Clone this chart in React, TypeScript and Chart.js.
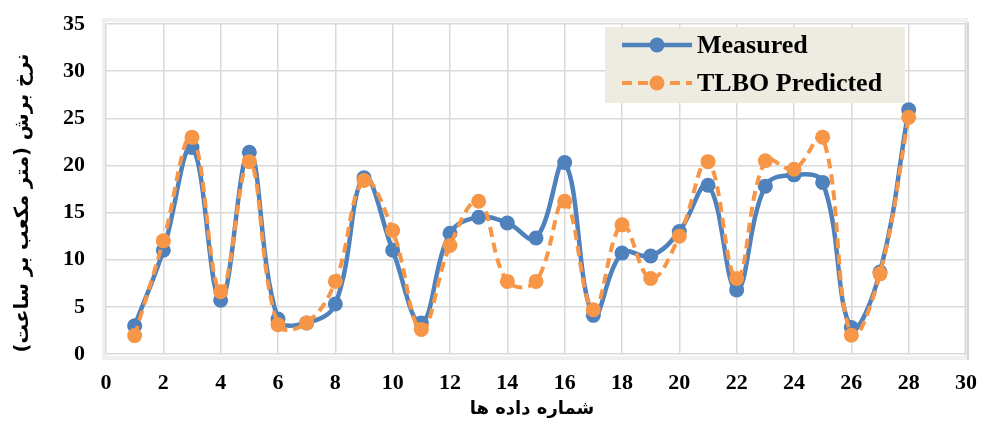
import React, { useEffect, useRef } from "react";
import { Chart, registerables } from "chart.js";

Chart.register(...registerables);

const dataIndex = [1, 2, 3, 4, 5, 6, 7, 8, 9, 10, 11, 12, 13, 14, 15, 16, 17, 18, 19, 20, 21, 22, 23, 24, 25, 26, 27, 28];
const measured = [3.0, 11.0, 21.9, 5.7, 21.4, 3.7, 3.3, 5.3, 18.7, 11.0, 3.3, 12.8, 14.5, 13.9, 12.3, 20.3, 4.1, 10.7, 10.4, 13.0, 17.9, 6.8, 17.8, 19.0, 18.2, 2.8, 8.7, 25.9];
const predicted = [1.95, 12.0, 23.0, 6.6, 20.4, 3.1, 3.3, 7.7, 18.4, 13.1, 2.6, 11.5, 16.2, 7.7, 7.7, 16.2, 4.7, 13.7, 8.0, 12.5, 20.4, 8.0, 20.5, 19.6, 23.0, 2.0, 8.5, 25.1];
const seriesNames = ["Measured", "TLBO Predicted"];
const seriesColors = ["#4f81bd", "#f79646"];
const xTitle = "شماره داده ها";
const yTitle = "نرخ برش (متر مکعب بر ساعت)";
const xRange = [0, 30, 2];
const yRange = [0, 35, 5];

const tickFont = { family: "'Liberation Serif', 'Times New Roman', serif", size: 22, weight: "bold" as const };

const legendPlugin = {
  id: "boxLegend",
  afterDraw(chart: any) {
    const ctx = chart.ctx;
    const x0 = 605, y0 = 27, w = 300, h = 76;
    ctx.save();
    ctx.fillStyle = "#eeece1";
    ctx.fillRect(x0, y0, w, h);
    const rows = [45, 83];
    seriesNames.forEach((name, i) => {
      const y = rows[i];
      ctx.strokeStyle = seriesColors[i];
      ctx.lineWidth = i === 0 ? 4.5 : 4;
      ctx.setLineDash(i === 0 ? [] : [10, 6]);
      ctx.beginPath();
      ctx.moveTo(622, y);
      ctx.lineTo(692, y);
      ctx.stroke();
      ctx.setLineDash([]);
      ctx.fillStyle = seriesColors[i];
      ctx.beginPath();
      ctx.arc(657, y, 7.5, 0, Math.PI * 2);
      ctx.fill();
      ctx.fillStyle = "#000";
      ctx.font = "bold 26px 'Liberation Serif', 'Times New Roman', serif";
      ctx.textBaseline = "middle";
      ctx.textAlign = "left";
      ctx.fillText(name, 697, y + 1);
    });
    // axis titles
    ctx.fillStyle = "#000";
    ctx.textAlign = "center";
    ctx.textBaseline = "middle";
    ctx.font = "bold 18px 'DejaVu Sans', sans-serif";
    ctx.fillText(xTitle, 532, 409);
    ctx.translate(23, 203);
    ctx.rotate(-Math.PI / 2);
    ctx.font = "bold 19.5px 'DejaVu Sans', sans-serif";
    ctx.fillText(yTitle, 0, 0);
    ctx.restore();
  },
};

const framePlugin = {
  id: "frame",
  beforeDraw(chart: any) {
    const ctx = chart.ctx;
    ctx.save();
    ctx.fillStyle = "#ffffff";
    ctx.fillRect(0, 0, chart.width, chart.height);
    const { chartArea: a } = chart;
    ctx.strokeStyle = "#f0f0f0";
    ctx.lineWidth = 4;
    ctx.strokeRect(a.left - 2, a.top - 4, a.right - a.left + 2, a.bottom - a.top + 8);
    ctx.strokeStyle = "#d6d6d6";
    ctx.lineWidth = 2;
    ctx.beginPath();
    ctx.moveTo(a.right + 2, a.top - 2);
    ctx.lineTo(a.right + 2, a.bottom + 6);
    ctx.stroke();
    ctx.restore();
  },
};

export default function App() {
  const ref = useRef<HTMLCanvasElement | null>(null);
  useEffect(() => {
    if (!ref.current) return;
    const chart = new Chart(ref.current, {
      type: "line",
      data: {
        datasets: [
          {
            label: seriesNames[0],
            data: dataIndex.map((x, i) => ({ x, y: measured[i] })),
            borderColor: seriesColors[0],
            backgroundColor: seriesColors[0],
            pointBackgroundColor: seriesColors[0],
            pointBorderWidth: 0,
            pointRadius: 7.5,
            borderWidth: 4.5,
            tension: 0.4,
            order: 1,
          },
          {
            label: seriesNames[1],
            data: dataIndex.map((x, i) => ({ x, y: predicted[i] })),
            borderColor: seriesColors[1],
            backgroundColor: seriesColors[1],
            pointBackgroundColor: seriesColors[1],
            pointBorderWidth: 0,
            pointRadius: 7.5,
            borderWidth: 4,
            borderDash: [10, 6],
            tension: 0.4,
            order: 0,
          },
        ],
      },
      options: {
        animation: false,
        responsive: true,
        maintainAspectRatio: false,
        layout: { padding: { top: 24, right: 16, left: 0, bottom: 0 } },
        plugins: { legend: { display: false }, tooltip: { enabled: false } },
        scales: {
          x: {
            type: "linear",
            min: xRange[0],
            max: xRange[1],
            ticks: { stepSize: xRange[2], font: tickFont, color: "#000", padding: 16 },
            grid: { color: "#d9d9d9", lineWidth: 1.5, drawTicks: false },
            border: { display: false },
            afterFit(scale: any) {
              scale.height = 71;
              scale.paddingLeft = 0;
              scale.paddingRight = 0;
            },
          },
          y: {
            min: yRange[0],
            max: yRange[1],
            ticks: { stepSize: yRange[2], font: tickFont, color: "#000", padding: 21 },
            grid: { color: "#d9d9d9", lineWidth: 1.5, drawTicks: false },
            border: { display: false },
            afterFit(scale: any) {
              scale.width = 106;
              scale.paddingTop = 0;
              scale.paddingBottom = 0;
            },
          },
        },
      },
      plugins: [framePlugin, legendPlugin],
    });
    return () => chart.destroy();
  }, []);
  return (
    <div style={{ position: "fixed", left: 0, top: 0, width: 982, height: 425, background: "#fff" }}>
      <canvas ref={ref} />
    </div>
  );
}
